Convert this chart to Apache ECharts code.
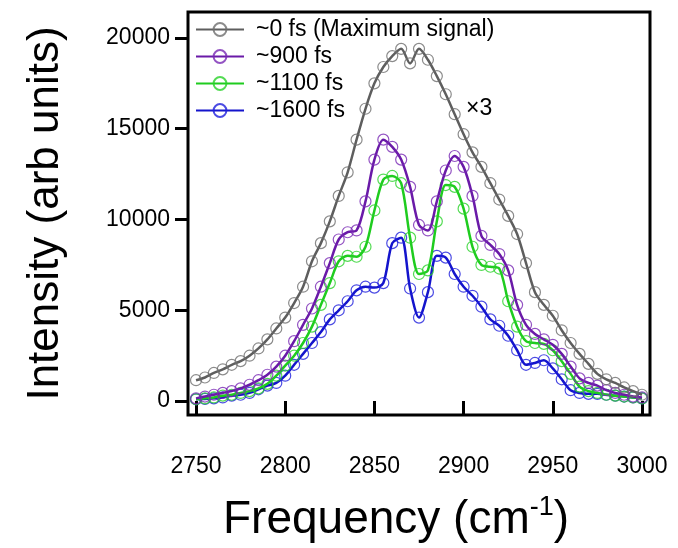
<!DOCTYPE html>
<html>
<head>
<meta charset="utf-8">
<script src="https://cdn.jsdelivr.net/npm/echarts@6/dist/echarts.min.js"></script>
<style>
html,body{margin:0;padding:0;background:#fff;}
#chart{width:678px;height:548px;}
</style>
</head>
<body>
<div id="chart"></div>
<script>
const frequency = [2750,2755,2760,2765,2770,2775,2780,2785,2790,2795,2800,2805,2810,2815,2820,2825,2830,2835,2840,2845,2850,2855,2860,2865,2870,2875,2880,2885,2890,2895,2900,2905,2910,2915,2920,2925,2930,2935,2940,2945,2950,2955,2960,2965,2970,2975,2980,2985,2990,2995,3000];
const fs0 = [1150,1300,1550,1750,2000,2200,2500,2900,3400,4000,4600,5400,6300,7700,8700,9900,11300,12600,14400,16100,17500,18400,19000,19400,18600,19400,18800,17900,16900,15800,14700,13700,12900,12000,11100,10200,9200,7600,6000,5300,4700,3900,3200,2600,2050,1500,1200,1000,750,550,350];
const fs900 = [150,250,350,450,550,700,900,1150,1450,1900,2500,3300,4200,5100,6300,7600,8900,9300,9400,11000,13300,14400,14000,13300,11800,9700,9400,11000,12700,13500,12900,11300,9100,8600,8100,7200,5300,4200,3700,3400,3100,2600,1900,1250,1000,850,600,450,350,250,200];
const fs1100 = [100,150,200,300,350,450,550,700,950,1400,1950,2500,3200,4100,5300,6500,7700,8000,7950,8500,10500,12200,12400,12000,9000,7000,7200,9900,11900,11800,10600,8500,7500,7400,7300,5500,4100,3300,3200,3150,2800,2200,1500,800,550,450,350,300,250,200,150];
const fs1600 = [100,120,150,200,300,350,450,650,850,1000,1400,2000,2600,3200,3800,4500,5000,5500,6100,6300,6250,6500,8700,9000,6200,4600,6000,8000,7900,7000,6300,5800,5200,4500,4150,3600,2800,2000,2100,2250,1800,1200,600,450,400,400,350,300,250,200,150];
const seriesNames = ['~0 fs (Maximum signal)','~900 fs','~1100 fs','~1600 fs'];
const xTicks = [2750,2800,2850,2900,2950,3000];
const yTicks = [0,5000,10000,15000,20000];

const lineColors = ['#5e5e5e','#6a1aa8','#1fcc1f','#1414cc'];
const markColors = ['rgba(110,110,110,0.8)','rgba(120,40,180,0.8)','rgba(40,210,40,0.8)','rgba(30,30,220,0.8)'];
const allData = [fs0, fs900, fs1100, fs1600];

const chart = echarts.init(document.getElementById('chart'), null, {renderer:'canvas'});
const font = '"Liberation Sans", Arial, sans-serif';

const series = allData.map((vals, i) => ({
  name: seriesNames[i],
  type: 'line',
  data: frequency.map((f, k) => [f, vals[k]]),
  smooth: 0.3,
  symbol: 'circle',
  symbolSize: 11,
  showSymbol: true,
  z: 10 - i,
  lineStyle: {color: lineColors[i], width: 2.5},
  itemStyle: {color: 'rgba(0,0,0,0)', borderColor: markColors[i], borderWidth: 1.2},
  emphasis: {disabled: true}
}));

chart.setOption({
  animation: false,
  backgroundColor: '#fff',
  grid: {left: 188, right: 28, top: 12, bottom: 124.5, show: true, borderColor: '#000', borderWidth: 3, backgroundColor: 'transparent'},
  legend: {
    orient: 'vertical', left: 190, top: 13, itemWidth: 48, itemHeight: 16, itemGap: 4,
    data: seriesNames,
    textStyle: {fontFamily: font, fontSize: 23, lineHeight: 23, color: '#000', padding: [0,0,0,7]}
  },
  xAxis: {
    type: 'value', min: 2745.5, max: 3004.5, offset: 3,
    axisLine: {show: false},
    axisTick: {show: true, length: 13, lineStyle: {color: '#000', width: 3}, customValues: xTicks},
    axisLabel: {fontFamily: font, fontSize: 23, color: '#000', margin: 37, customValues: xTicks, formatter: v => String(v)},
    splitLine: {show: false},
    name: 'Frequency (cm{sup|-1})', nameLocation: 'middle', nameGap: 76,
    nameTextStyle: {fontFamily: font, fontSize: 46, color: '#000', padding: [0, 46, 0, 0],
      rich: {sup: {fontFamily: font, fontSize: 27, color: '#000', verticalAlign: 'top', padding: [0,0,25,0]}}}
  },
  yAxis: {
    type: 'value', min: -766, max: 21430,
    axisLine: {show: false},
    axisTick: {show: true, length: 13, lineStyle: {color: '#000', width: 3}, customValues: yTicks},
    axisLabel: {fontFamily: font, fontSize: 23, color: '#000', margin: 18, customValues: yTicks, formatter: v => String(v)},
    splitLine: {show: false},
    name: 'Intensity (arb units)', nameLocation: 'middle', nameGap: 120,
    nameTextStyle: {fontFamily: font, fontSize: 44, color: '#000'}
  },
  graphic: [{type: 'text', left: 466, top: 97, style: {text: '×3', fontFamily: font, fontSize: 23, fill: '#000'}}],
  series: series
});
</script>
</body>
</html>
